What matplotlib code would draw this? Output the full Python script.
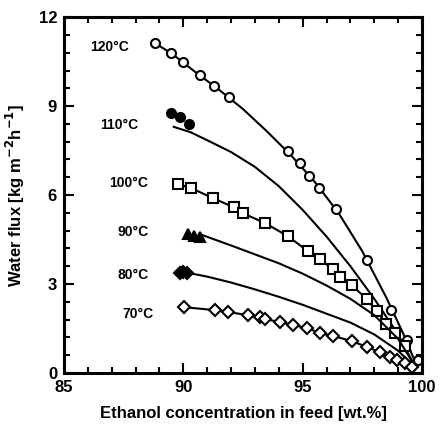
import matplotlib
matplotlib.use("Agg")
import matplotlib.pyplot as plt
from matplotlib.ticker import MultipleLocator

plt.rcParams['font.family'] = ['Liberation Sans', 'DejaVu Sans']
plt.rcParams['font.weight'] = 'bold'

# 120 °C (open circles, fitted curve)
x120 = [88.81, 89.48, 89.98, 90.69, 91.28, 91.90, 94.37, 94.87, 95.25, 95.67, 96.38, 97.68, 98.72, 99.35, 99.85]
y120 = [11.12, 10.79, 10.48, 10.04, 9.67, 9.30, 7.48, 7.08, 6.64, 6.24, 5.53, 3.81, 2.12, 1.11, 0.44]
x120_fit = [88.81, 89.5, 90.5, 91.5, 92.5, 93.5, 94.5, 95.5, 96.5, 97.5, 98.5, 99.2, 99.75]
y120_fit = [11.12, 10.78, 10.15, 9.55, 8.9, 8.15, 7.35, 6.45, 5.4, 4.1, 2.55, 1.35, 0.3]

# 110 °C (filled circles, model curve)
x110 = [89.48, 89.85, 90.23]
y110 = [8.76, 8.63, 8.39]
x110_fit = [89.6, 90.3, 91.0, 92.0, 93.0, 94.0, 95.0, 96.0, 97.0, 98.0, 99.0, 99.65]
y110_fit = [8.3, 8.12, 7.85, 7.45, 6.95, 6.3, 5.5, 4.6, 3.6, 2.5, 1.3, 0.3]

# 100 °C (open squares)
x100 = [89.77, 90.31, 91.23, 92.11, 92.49, 93.41, 94.37, 95.21, 95.71, 96.26, 96.55, 97.05, 97.68, 98.10, 98.51, 98.85, 99.27]
y100 = [6.37, 6.24, 5.90, 5.59, 5.39, 5.06, 4.62, 4.11, 3.84, 3.51, 3.24, 2.97, 2.49, 2.09, 1.65, 1.35, 0.91]

# 90 °C (filled triangles, model curve)
x90 = [90.2, 90.45, 90.7]
y90 = [4.68, 4.62, 4.58]
x90_fit = [90.8, 92.0, 93.0, 94.0, 95.0, 96.0, 97.0, 98.0, 99.0, 99.6]
y90_fit = [4.65, 4.3, 4.0, 3.7, 3.35, 2.95, 2.5, 1.95, 1.15, 0.37]

# 80 °C (filled diamonds, model curve)
x80 = [89.85, 90.0, 90.15]
y80 = [3.38, 3.40, 3.38]
x80_fit = [90.3, 91.0, 92.0, 93.0, 94.0, 95.0, 96.0, 97.0, 98.0, 99.0, 99.6]
y80_fit = [3.36, 3.25, 3.05, 2.82, 2.57, 2.3, 2.0, 1.7, 1.3, 0.75, 0.27]

# 70 °C (open diamonds)
x70 = [90.02, 91.32, 91.86, 92.70, 93.2, 93.41, 94.04, 94.58, 95.17, 95.71, 96.26, 97.05, 97.68, 98.22, 98.64, 98.97, 99.27, 99.6]
y70 = [2.22, 2.12, 2.06, 1.95, 1.89, 1.82, 1.72, 1.62, 1.52, 1.35, 1.25, 1.08, 0.88, 0.71, 0.54, 0.44, 0.34, 0.2]

labels = ['120°C', '110°C', '100°C', '90°C', '80°C', '70°C']
label_x = [86.9, 87.3, 87.7, 87.9, 87.9, 88.1]
label_y = [11.0, 8.36, 6.4, 4.75, 3.3, 2.0]

fig = plt.figure(figsize=(4.41, 4.28), dpi=100)
ax = fig.add_axes([0.145, 0.1285, 0.812, 0.8315])

lw = 1.5
ms = 6.5
mew = 1.5
ax.plot(x120_fit, y120_fit, '-', color='black', lw=lw)
ax.plot(x120, y120, 'o', mfc='white', mec='black', ms=ms, mew=mew)

ax.plot(x110_fit, y110_fit, '-', color='black', lw=lw)
ax.plot(x110, y110, 'o', mfc='black', mec='black', ms=ms, mew=mew)

ax.plot(x100, y100, '-s', color='black', mfc='white', mec='black', ms=ms, mew=mew, lw=lw)

ax.plot(x90_fit, y90_fit, '-', color='black', lw=lw)
ax.plot(x90, y90, '^', mfc='black', mec='black', ms=ms, mew=mew)

ax.plot(x80_fit, y80_fit, '-', color='black', lw=lw)
ax.plot(x80, y80, 'D', mfc='black', mec='black', ms=ms, mew=mew)

ax.plot(x70, y70, '-D', color='black', mfc='white', mec='black', ms=ms - 0.5, mew=mew, lw=lw)

for t, lx, ly in zip(labels, label_x, label_y):
    ax.text(lx, ly, t, ha='center', va='center', fontsize=10, fontweight='bold')

ax.set_xlim(85, 100)
ax.set_ylim(0, 12)
ax.xaxis.set_major_locator(MultipleLocator(5))
ax.xaxis.set_minor_locator(MultipleLocator(1))
ax.yaxis.set_major_locator(MultipleLocator(3))
ax.yaxis.set_minor_locator(MultipleLocator(0.6))
ax.tick_params(which='both', direction='in', top=True, right=True, width=1.5, labelsize=12)
ax.tick_params(which='major', length=7, pad=5)
ax.tick_params(which='minor', length=4)
for s in ax.spines.values():
    s.set_linewidth(2.2)
for lab in ax.get_xticklabels() + ax.get_yticklabels():
    lab.set_fontweight('bold')

ax.set_xlabel('Ethanol concentration in feed [wt.%]', fontsize=12, fontweight='bold', labelpad=8)
ax.set_ylabel('Water flux [kg m$^{\\mathbf{-2}}$h$^{\\mathbf{-1}}$]', fontsize=12, fontweight='bold', labelpad=8)

fig.savefig('out.png', dpi=100)
